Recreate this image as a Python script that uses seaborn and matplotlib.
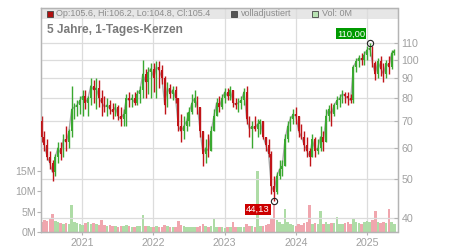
import numpy as np
import pandas as pd
import matplotlib
matplotlib.use("Agg")
import matplotlib.pyplot as plt
import matplotlib.dates as mdates
from matplotlib.ticker import NullLocator, FixedLocator
from matplotlib.patches import Rectangle
import seaborn as sns

# ---------------- data (biweekly candles) ----------------
opens = [70, 64, 61, 57, 55, 52, 57, 60, 58, 63, 62, 66, 75, 76, 77, 79, 81, 78, 80, 86,
         84, 85, 80, 78, 76, 77, 75, 74, 76, 72, 71, 73, 80, 79, 80, 78, 82, 84, 92, 88,
         93, 95, 90, 96, 94, 90, 77, 85, 82, 84, 80, 68, 66, 68, 70, 74, 78, 80, 76, 66,
         58, 60, 59, 66, 72, 78, 76, 80, 83, 81, 84, 78, 77, 78, 79, 83, 71, 67, 68, 67,
         69, 70, 64, 61, 58, 48, 46.5, 51, 53, 54, 63, 68, 71, 73, 72, 66, 64, 61, 59, 57,
         63, 59, 60, 64, 62, 72, 75, 73, 77, 79, 80, 82, 81, 80, 79, 96, 99, 101, 100, 103,
         106, 107, 98, 92, 99, 95, 92, 98, 96, 104]
highs = [72, 66, 63, 59, 56, 58, 62, 62, 65, 68, 67, 86, 78, 79, 81, 84, 84, 81, 90, 89,
         90, 89, 84, 81, 80, 79, 78, 78, 77, 76, 75, 82, 83, 82, 83, 84, 86, 100, 95, 96,
         98, 98, 99, 99, 97, 91, 88, 87, 86, 86, 80, 73, 72, 74, 76, 82, 84, 81, 76, 66,
         63, 65, 68, 75, 80, 81, 82, 85, 85, 86, 84, 80, 80, 81, 85, 86, 72, 70, 72, 71,
         71, 70, 64, 63, 59, 51, 52, 56, 56, 65, 70, 72, 75, 76, 72, 69, 66, 64, 60, 65,
         64, 63, 68, 66, 75, 77, 78, 78, 81, 82, 84, 83, 83, 82, 97, 101, 103, 104, 105, 108,
         110, 108, 99, 101, 102, 98, 100, 102, 106, 106.2]
lows = [62, 59, 56, 53, 49.5, 51, 55, 56, 57, 59, 60, 64, 71, 72, 73, 72, 75, 72, 77, 78,
        75, 76, 72, 74, 72, 73, 71, 72, 70.5, 68, 68, 68, 76, 76, 77, 77, 78, 80, 80, 82,
        80, 83, 80, 85, 87, 73, 76, 80, 79, 78, 66, 62, 63, 66, 68, 73, 76, 73, 64, 54,
        55, 57, 59, 66, 72, 74, 75, 78, 79, 79, 76, 75, 74, 75, 77, 69, 64, 60, 66, 64,
        65, 63, 59, 57, 46, 44.13, 46, 50, 51, 54, 62, 66, 69, 69, 64, 63, 59, 57, 54, 57,
        57, 58, 59, 59, 62, 70, 68, 72, 75, 76, 78, 78, 77, 78, 78, 93, 96, 97, 97, 100,
        102, 96, 89, 90, 91, 88, 90, 92, 95, 103]
closes = [64, 61, 57, 55, 52, 57, 60, 58, 63, 62, 66, 75, 76, 77, 79, 81, 78, 80, 86, 84,
          85, 80, 78, 76, 77, 75, 74, 76, 72, 71, 73, 80, 79, 80, 78, 82, 84, 92, 88, 93,
          95, 90, 96, 94, 90, 77, 85, 82, 84, 80, 68, 66, 68, 70, 74, 78, 80, 76, 66, 58,
          60, 59, 66, 72, 78, 76, 80, 83, 81, 84, 78, 77, 78, 79, 83, 71, 67, 68, 67, 69,
          70, 64, 61, 58, 48, 46.5, 51, 53, 54, 63, 68, 71, 73, 72, 66, 64, 61, 59, 57, 63,
          59, 60, 64, 62, 72, 75, 73, 77, 79, 80, 82, 81, 80, 79, 96, 99, 101, 100, 103, 106,
          107, 98, 92, 99, 95, 92, 98, 96, 104, 105.4]
volumes_m = [2.5, 3.0, 2.8, 3.5, 4.6, 2.8, 2.5, 2.2, 2.0, 2.3, 2.0, 6.6, 2.5, 2.3, 2.0, 1.8, 2.2, 2.5, 2.0, 2.2,
             2.0, 1.8, 3.0, 1.8, 1.6, 1.7, 1.5, 1.6, 1.4, 1.5, 1.6, 1.8, 1.5, 1.4, 1.3, 1.5, 1.6, 4.3, 1.6, 1.5,
             1.4, 1.3, 1.5, 1.4, 1.3, 1.8, 1.5, 1.4, 1.3, 1.4, 2.8, 1.8, 1.5, 1.4, 1.3, 1.2, 1.3, 1.4, 1.6, 2.0,
             1.5, 1.4, 1.5, 3.4, 1.3, 1.2, 1.3, 1.1, 1.2, 1.3, 2.5, 1.3, 1.2, 1.4, 1.3, 2.0, 1.6, 1.5, 1.4, 15.0,
             1.5, 1.6, 1.8, 2.0, 3.5, 7.0, 3.0, 2.5, 2.0, 5.6, 2.5, 2.0, 1.8, 1.6, 2.0, 1.8, 2.2, 2.5, 6.6, 2.0,
             2.2, 2.0, 5.3, 2.0, 2.5, 2.0, 2.2, 2.2, 3.8, 2.0, 2.0, 2.2, 2.5, 2.0, 3.5, 2.5, 2.2, 2.0, 2.5, 2.8,
             2.5, 3.0, 5.3, 2.5, 2.2, 2.5, 2.2, 5.6, 2.5, 2.0]

price_ticks = [40, 50, 60, 70, 80, 90, 100, 110]
vol_ticks = [0, 5, 10, 15]
vol_tick_labels = ["0M", "5M", "10M", "15M"]
year_labels = ["2021", "2022", "2023", "2024", "2025"]
title_text = "5 Jahre, 1-Tages-Kerzen"
header_ohlc = "Op:105.6, Hi:106.2, Lo:104.8, Cl:105.4"
header_adj = "volladjustiert"
header_vol = "Vol: 0M"
high_label = "110,00"
low_label = "44,13"

dates = pd.date_range("2020-06-08", periods=len(closes), freq="14D")

# ---------------- style ----------------
sns.set_theme(style="white")
plt.rcParams["font.family"] = ["Liberation Sans", "DejaVu Sans"]

UP, DOWN = "#3aa830", "#c01418"
VUP, VDOWN = "#aedca6", "#f0a6ae"
GRID, SPINE, TXT = "#dcdcdc", "#b4b4b4", "#a0a0a0"

W, H = 450, 250
fig = plt.figure(figsize=(4.5, 2.5), dpi=100)
L, R, T, B = 41, 397.5, 8, 232.3
ax_vol = fig.add_axes([L / W, 1 - B / H, (R - L) / W, (B - T) / H])
ax_price = ax_vol.twinx()

o = np.array(opens); h = np.array(highs); l = np.array(lows); c = np.array(closes)
up = c >= o
ccol = [UP if u else DOWN for u in up]
vcol = [VUP if u else VDOWN for u in up]

# volume
ax_vol.bar(dates, volumes_m, width=13, color=vcol, linewidth=0, zorder=1)
ax_vol.set_ylim(0, 54.9)
ax_vol.set_yticks(vol_ticks)
ax_vol.set_yticklabels(vol_tick_labels)
ax_vol.set_xlim(pd.Timestamp("2020-06-05"), pd.Timestamp("2025-06-04"))
ax_vol.xaxis.set_major_locator(FixedLocator([mdates.date2num(pd.Timestamp(f"{y}-01-01")) for y in year_labels]))
ax_vol.set_xticklabels(year_labels)
ax_vol.grid(axis="x", color=GRID, lw=0.9)
ax_vol.set_axisbelow(True)
ax_vol.tick_params(axis="y", colors=TXT, labelsize=7.7, length=3, width=0.8, pad=0.5, left=True, direction="out")
ax_vol.tick_params(axis="x", colors=TXT, labelsize=7.7, length=2.5, width=0.8, pad=1.5, bottom=True, direction="out")
ax_vol.tick_params(axis="y", labelcolor=TXT, color=SPINE)
ax_vol.tick_params(axis="x", labelcolor=TXT, color=SPINE)

# header band
ax_vol.add_patch(Rectangle((0, 1 - 11 / (B - T)), 1, 11 / (B - T), transform=ax_vol.transAxes,
                           facecolor="#e6e6e6", edgecolor="none", zorder=0.3))

# price
sns.lineplot(x=dates, y=closes, ax=ax_price, color="#a8a8a8", lw=1.0, zorder=1)
ax_price.vlines(dates, l, h, colors=ccol, lw=1.0, zorder=2)
ax_price.bar(dates, np.abs(c - o), bottom=np.minimum(o, c), width=9, color=ccol, linewidth=0, zorder=3)
ax_price.set_yscale("log")
ax_price.set_ylim(36.75, 135.0)
ax_price.yaxis.set_major_locator(FixedLocator(price_ticks))
ax_price.yaxis.set_minor_locator(NullLocator())
ax_price.set_yticklabels([str(t) for t in price_ticks])
ax_price.grid(axis="y", color=GRID, lw=0.9)
ax_price.tick_params(axis="y", labelcolor=TXT, color=SPINE, labelsize=7.7, length=3, width=0.8,
                     pad=3, right=True, direction="in")
ax_price.set_xlabel(""); ax_price.set_ylabel("")

for a in (ax_vol, ax_price):
    for s in a.spines.values():
        s.set_color(SPINE)
        s.set_linewidth(0.9)

# extremes
hi_i = int(np.argmax(h)); lo_i = int(np.argmin(l))
for idx, val, lab, col, off in [(hi_i, h[hi_i], high_label, "#009a00", (-13.5, 6.8)),
                                (lo_i, l[lo_i], low_label, "#cc0000", (-11.5, -6.2))]:
    ax_price.plot([dates[idx]], [val], "o", mfc="none", mec="#222222", ms=4.5, mew=0.8, zorder=5)
    ax_price.annotate(lab, xy=(dates[idx], val), xytext=off, textcoords="offset points",
                      ha="center", va="center", color="white", fontsize=6.8, zorder=6,
                      bbox=dict(boxstyle="square,pad=0.12", fc=col, ec="none"))

ax_price.set_xlim(ax_vol.get_xlim())

# header texts
def px(x, y):
    return x / W, 1 - y / H

def square(x, y, fc):
    fig.add_artist(Rectangle(px(x, y + 6), 6 / W, 6 / H, transform=fig.transFigure,
                             facecolor=fc, edgecolor="#444444", lw=0.6))

square(46.5, 10.5, "#b01010")
fig.text(*px(56, 13.8), header_ohlc, color="#8c8c8c", fontsize=6.5, va="center", ha="left")
square(231, 10.5, "#555555")
fig.text(*px(241, 13.8), header_adj, color="#8c8c8c", fontsize=6.5, va="center", ha="left")
square(312, 10.5, "#b8e2b2")
fig.text(*px(322, 13.8), header_vol, color="#8c8c8c", fontsize=6.5, va="center", ha="left")
fig.text(*px(47, 29.5), title_text, color="#7a7a7a", fontsize=8.6, fontweight="bold", va="center", ha="left")

fig.savefig("out.png", dpi=100)
